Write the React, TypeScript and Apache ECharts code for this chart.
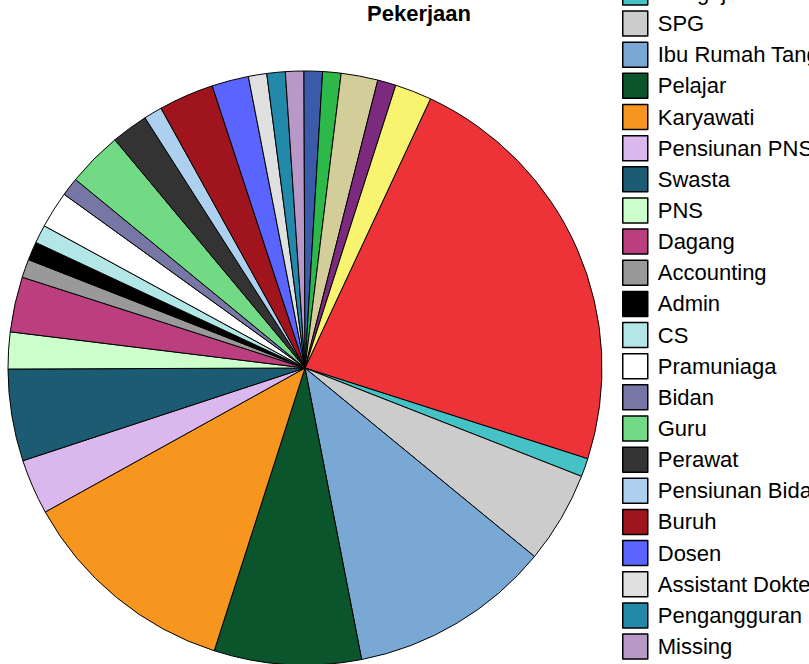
import React, { useEffect, useRef } from "react";
import * as echarts from "echarts";

const categories = [
  "Mahasiswa",
  "Pengajar",
  "SPG",
  "Ibu Rumah Tangga",
  "Pelajar",
  "Karyawati",
  "Pensiunan PNS",
  "Swasta",
  "PNS",
  "Dagang",
  "Accounting",
  "Admin",
  "CS",
  "Pramuniaga",
  "Bidan",
  "Guru",
  "Perawat",
  "Pensiunan Bidan",
  "Buruh",
  "Dosen",
  "Assistant Dokter",
  "Pengangguran",
  "Missing",
  "Wiraswasta",
  "Petani",
  "Karyawan",
  "Polisi",
  "Lainnya",
];

const values = [23, 1, 5, 11, 8, 12, 3, 5, 2, 3, 1, 1, 1, 2, 1, 3, 2, 1, 3, 2, 1, 1, 1, 1, 1, 2, 1, 2];

const colors = [
  "#ee3338",
  "#45c2c5",
  "#cccccc",
  "#79a8d4",
  "#0a552c",
  "#f6961f",
  "#dab8ee",
  "#1b5c72",
  "#ccffcc",
  "#bb3f7f",
  "#999999",
  "#000000",
  "#b3e6e6",
  "#ffffff",
  "#7777a6",
  "#72d985",
  "#333333",
  "#acd0ee",
  "#a0151d",
  "#5a64fe",
  "#e0e0e0",
  "#2289aa",
  "#b898c7",
  "#3b5aa9",
  "#2db84a",
  "#d3cd9a",
  "#7b2a80",
  "#f8f470",
];

const title = "Pekerjaan";

export default function App() {
  const ref = useRef<HTMLDivElement>(null);

  useEffect(() => {
    if (!ref.current) return;
    const chart = echarts.init(ref.current, undefined, { renderer: "svg" });
    chart.setOption({
      animation: false,
      color: colors,
      title: {
        text: title,
        left: 414,
        textAlign: "center",
        top: -3,
        textStyle: {
          fontFamily: "Liberation Sans, Arial, sans-serif",
          fontSize: 22,
          fontWeight: "bold",
          color: "#000",
        },
      },
      legend: {
        orient: "vertical",
        left: 622,
        top: -52,
        height: 2000,
        padding: 0,
        itemWidth: 25,
        itemHeight: 25,
        itemGap: 4.65,
        selectedMode: false,
        data: categories,
        icon: "rect",
        itemStyle: { borderColor: "#000", borderWidth: 1.5 },
        textStyle: {
          fontFamily: "Liberation Sans, Arial, sans-serif",
          fontSize: 22,
          color: "#000",
          padding: [0, 0, 0, 5],
        },
      },
      series: [
        {
          type: "pie",
          center: [305, 368],
          radius: 297,
          startAngle: 65,
          clockwise: true,
          label: { show: false },
          labelLine: { show: false },
          silent: true,
          itemStyle: { borderColor: "#000", borderWidth: 1 },
          data: categories.map((name, i) => ({ name, value: values[i] })),
        },
      ],
    });
    return () => chart.dispose();
  }, []);

  return (
    <div
      ref={ref}
      style={{ position: "absolute", left: 0, top: 0, width: 809, height: 664 }}
    />
  );
}
